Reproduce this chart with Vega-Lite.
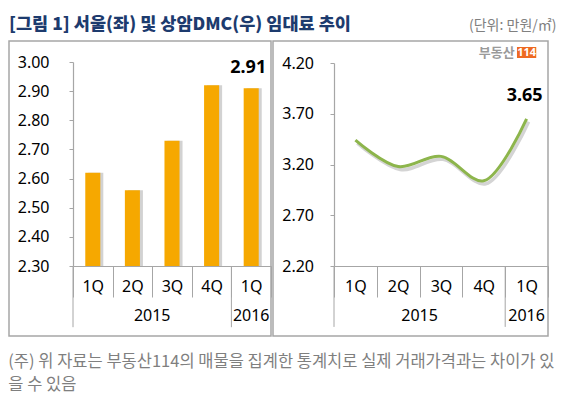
{
  "$schema": "https://vega.github.io/schema/vega-lite/v6.json",
  "padding": {"left": 8, "top": 14, "right": 4, "bottom": 0},
  "background": "white",
  "title": {
    "text": ["(주) 위 자료는 부동산114의 매물을 집계한 통계치로 실제 거래가격과는 차이가 있", "을 수 있음"],
    "orient": "bottom", "anchor": "start", "fontSize": 16.5, "fontWeight": "normal",
    "color": "#7f7f7f", "lineHeight": 23, "offset": 17, "font": "Noto Sans CJK KR"
  },
  "datasets": {
    "seoul": [
      {"q": "1Q 2015", "year": "2015", "v": 2.62},
      {"q": "2Q 2015", "year": "2015", "v": 2.56},
      {"q": "3Q 2015", "year": "2015", "v": 2.73},
      {"q": "4Q 2015", "year": "2015", "v": 2.92},
      {"q": "1Q 2016", "year": "2016", "v": 2.91}
    ],
    "dmc": [
      {"q": "1Q 2015", "year": "2015", "v": 3.44},
      {"q": "2Q 2015", "year": "2015", "v": 3.18},
      {"q": "3Q 2015", "year": "2015", "v": 3.28},
      {"q": "4Q 2015", "year": "2015", "v": 3.04},
      {"q": "1Q 2016", "year": "2016", "v": 3.65}
    ],
    "logo": [{"brand": "부동산", "num": "114"}]
  },
  "bounds": "flush",
  "spacing": 2,
  "hconcat": [
    {
      "width": 262, "height": 295,
      "title": {
        "text": "[그림 1] 서울(좌) 및 상암DMC(우) 임대료 추이", "anchor": "start",
        "fontSize": 17.5, "fontWeight": 900, "color": "#1d3b6e", "font": "Noto Sans CJK KR", "offset": 8
      },
      "data": {"name": "seoul"},
      "layer": [
        {
          "mark": {"type": "bar", "width": {"band": 0.38}, "xOffset": 3, "color": "#d2d2d2"},
          "encoding": {
            "x": {"field": "q", "type": "nominal", "sort": null,
              "scale": {"range": [64, 262], "paddingInner": 0, "paddingOuter": 0},
              "axis": {"title": null, "tickBand": "extent", "tickSize": 31, "labelPadding": -19, "offset": -70,
                "labelExpr": "split(datum.label, ' ')[0]", "labelAngle": 0}},
            "y": {"field": "v", "type": "quantitative",
              "scale": {"domain": [2.3, 3.0], "range": [225, 21], "zero": false, "nice": false},
              "axis": {"title": null, "values": [2.3, 2.4, 2.5, 2.6, 2.7, 2.8, 2.9, 3.0], "format": ".2f",
                "offset": -64, "tickSize": 4, "labelPadding": 20, "grid": false}},
            "y2": {"datum": 2.3}
          }
        },
        {
          "mark": {"type": "bar", "width": {"band": 0.38}, "color": "#f6a800"},
          "encoding": {
            "x": {"field": "q", "type": "nominal", "sort": null},
            "y": {"field": "v", "type": "quantitative"},
            "y2": {"datum": 2.3}
          }
        },
        {
          "transform": [{"filter": "datum.q == '1Q 2016'"}],
          "mark": {"type": "text", "fontSize": 18, "fontWeight": "bold", "font": "Noto Sans", "dy": -15, "dx": -3, "baseline": "alphabetic", "color": "#000"},
          "encoding": {
            "x": {"field": "q", "type": "nominal", "sort": null},
            "y": {"field": "v", "type": "quantitative"},
            "text": {"field": "v", "format": ".2f"}
          }
        },
        {
          "transform": [{"filter": "datum.q == '3Q 2015'"}],
          "mark": {"type": "text", "fontSize": 16, "font": "Noto Sans", "baseline": "middle", "color": "#000"},
          "encoding": {
            "x": {"field": "q", "type": "nominal", "sort": null, "bandPosition": 0},
            "y": {"datum": 2.13},
            "text": {"field": "year"}
          }
        },
        {
          "transform": [{"filter": "datum.q == '1Q 2016'"}],
          "mark": {"type": "text", "fontSize": 16, "font": "Noto Sans", "baseline": "middle", "color": "#000"},
          "encoding": {
            "x": {"field": "q", "type": "nominal", "sort": null, "bandPosition": 0.5},
            "y": {"datum": 2.13},
            "text": {"field": "year"}
          }
        },
        {
          "transform": [{"filter": {"field": "q", "oneOf": ["1Q 2015", "1Q 2016"]}}],
          "mark": {"type": "rule", "color": "#a6a6a6", "strokeWidth": 1},
          "encoding": {
            "x": {"field": "q", "type": "nominal", "sort": null, "bandPosition": 0},
            "y": {"datum": 2.3},
            "y2": {"datum": 2.09}
          }
        }
      ]
    },
    {
      "width": 275, "height": 295,
      "title": {
        "text": "(단위: 만원/㎡)", "anchor": "end", "dx": 8,
        "fontSize": 14, "fontWeight": "normal", "color": "#808080", "font": "Noto Sans CJK KR", "offset": 8
      },
      "data": {"name": "dmc"},
      "layer": [
        {
          "mark": {"type": "line", "interpolate": "catmull-rom", "strokeWidth": 3.5, "color": "#d4d4d4", "xOffset": 2, "yOffset": 3},
          "encoding": {
            "x": {"field": "q", "type": "nominal", "sort": null,
              "scale": {"range": [61, 275], "paddingInner": 0, "paddingOuter": 0},
              "axis": {"title": null, "tickBand": "extent", "tickSize": 31, "labelPadding": -19, "offset": -70,
                "labelExpr": "split(datum.label, ' ')[0]", "labelAngle": 0}},
            "y": {"field": "v", "type": "quantitative",
              "scale": {"domain": [2.2, 4.2], "range": [225, 22], "zero": false, "nice": false},
              "axis": {"title": null, "values": [2.2, 2.7, 3.2, 3.7, 4.2], "format": ".2f",
                "offset": -61, "tickSize": 4, "labelPadding": 16.5, "grid": false}}
          }
        },
        {
          "mark": {"type": "line", "interpolate": "catmull-rom", "strokeWidth": 3, "color": "#8db54c"},
          "encoding": {
            "x": {"field": "q", "type": "nominal", "sort": null},
            "y": {"field": "v", "type": "quantitative"}
          }
        },
        {
          "transform": [{"filter": "datum.q == '1Q 2016'"}],
          "mark": {"type": "text", "fontSize": 18, "fontWeight": "bold", "font": "Noto Sans", "dy": -18, "dx": -2, "baseline": "alphabetic", "color": "#000"},
          "encoding": {
            "x": {"field": "q", "type": "nominal", "sort": null},
            "y": {"field": "v", "type": "quantitative"},
            "text": {"field": "v", "format": ".2f"}
          }
        },
        {
          "transform": [{"filter": "datum.q == '3Q 2015'"}],
          "mark": {"type": "text", "fontSize": 16, "font": "Noto Sans", "baseline": "middle", "color": "#000"},
          "encoding": {
            "x": {"field": "q", "type": "nominal", "sort": null, "bandPosition": 0},
            "y": {"datum": 1.71},
            "text": {"field": "year"}
          }
        },
        {
          "transform": [{"filter": "datum.q == '1Q 2016'"}],
          "mark": {"type": "text", "fontSize": 16, "font": "Noto Sans", "baseline": "middle", "color": "#000"},
          "encoding": {
            "x": {"field": "q", "type": "nominal", "sort": null, "bandPosition": 0.5},
            "y": {"datum": 1.71},
            "text": {"field": "year"}
          }
        },
        {
          "transform": [{"filter": {"field": "q", "oneOf": ["1Q 2015", "1Q 2016"]}}],
          "mark": {"type": "rule", "color": "#a6a6a6", "strokeWidth": 1},
          "encoding": {
            "x": {"field": "q", "type": "nominal", "sort": null, "bandPosition": 0},
            "y": {"datum": 2.2},
            "y2": {"datum": 1.6}
          }
        },
        {
          "data": {"name": "logo"},
          "mark": {"type": "bar", "width": {"band": 0.45}, "color": "#ee6a22"},
          "encoding": {
            "x": {"datum": "1Q 2016"},
            "y": {"datum": 4.358},
            "y2": {"datum": 4.249}
          }
        },
        {
          "data": {"name": "logo"},
          "mark": {"type": "text", "fontSize": 11, "fontWeight": "bold", "font": "Noto Sans", "color": "white", "baseline": "middle"},
          "encoding": {
            "x": {"datum": "1Q 2016"},
            "y": {"datum": 4.303},
            "text": {"field": "num"}
          }
        },
        {
          "data": {"name": "logo"},
          "mark": {"type": "text", "fontSize": 13, "fontWeight": "bold", "font": "Noto Sans CJK KR", "color": "#9a9a9a", "baseline": "middle", "align": "right", "dx": -12},
          "encoding": {
            "x": {"datum": "1Q 2016"},
            "y": {"datum": 4.303},
            "text": {"field": "brand"}
          }
        }
      ]
    }
  ],
  "config": {
    "view": {"stroke": "#a6a6a6", "strokeWidth": 1.5},
    "axis": {
      "labelFont": "Noto Sans", "labelFontSize": 16, "labelColor": "#000",
      "domainColor": "#a6a6a6", "tickColor": "#a6a6a6", "domainWidth": 1.2, "tickWidth": 1
    }
  }
}
